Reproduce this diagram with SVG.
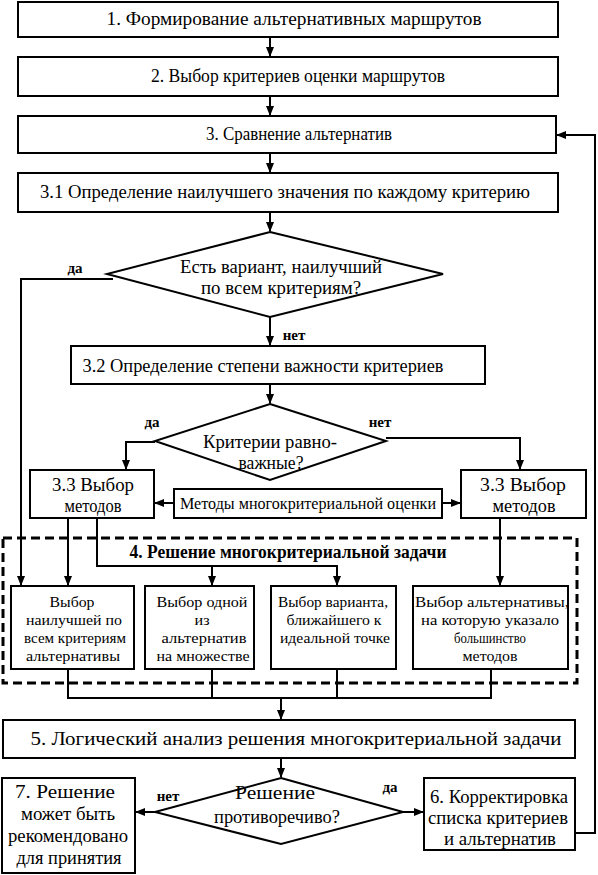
<svg xmlns="http://www.w3.org/2000/svg" width="598" height="875" viewBox="0 0 598 875">
<style>
.b{fill:#fff;stroke:#000;stroke-width:2}
text{font-family:'Liberation Serif','DejaVu Serif',serif;fill:#000;text-anchor:middle}
.t{font-size:18px}
.s{font-size:15px}
.m{font-size:16px}
.l{font-size:15px;font-weight:bold}
.c{fill:none;stroke:#000;stroke-width:2}
</style>
<defs>
<marker id="a" markerWidth="10" markerHeight="8" refX="9" refY="4" orient="auto" markerUnits="userSpaceOnUse">
<path d="M0,0 L10,4 L0,8 Z" fill="#000"/>
</marker>
</defs>
<rect width="598" height="875" fill="#fff"/>
<g id="n1"><rect class="b" x="18" y="2" width="540" height="35"/><text class="t" x="294" y="25" textLength="375" lengthAdjust="spacingAndGlyphs">1. Формирование альтернативных маршрутов</text></g>
<g id="n2"><rect class="b" x="18" y="57" width="540" height="39"/><text class="t" x="298" y="82" textLength="294" lengthAdjust="spacingAndGlyphs">2. Выбор критериев оценки маршрутов</text></g>
<g id="n3"><rect class="b" x="18" y="116" width="538" height="37"/><text class="t" x="299" y="140" textLength="186" lengthAdjust="spacingAndGlyphs">3. Сравнение альтернатив</text></g>
<g id="n31"><rect class="b" x="18" y="173" width="540" height="39"/><text class="t" x="285" y="198" textLength="490" lengthAdjust="spacingAndGlyphs">3.1 Определение наилучшего значения по каждому критерию</text></g>
<g id="d1"><polygon class="b" points="270,232 443,274 270,317 107,274"/><text class="t" x="281" y="273" textLength="202" lengthAdjust="spacingAndGlyphs">Есть вариант, наилучший</text><text class="t" x="281" y="294" textLength="160" lengthAdjust="spacingAndGlyphs">по всем критериям?</text></g>
<g id="n32"><rect class="b" x="71" y="346" width="414" height="38"/><text class="t" x="263" y="372" textLength="361" lengthAdjust="spacingAndGlyphs">3.2 Определение степени важности критериев</text></g>
<g id="d2"><polygon class="b" points="270,404 386,441 270,480 155,441"/><text class="t" x="270" y="448" textLength="134" lengthAdjust="spacingAndGlyphs">Критерии равно-</text><text class="t" x="271" y="469" textLength="65" lengthAdjust="spacingAndGlyphs">важные?</text></g>
<g id="n33l"><rect class="b" x="30" y="470" width="124" height="48"/><text class="t" x="93" y="491" textLength="82" lengthAdjust="spacingAndGlyphs">3.3 Выбор</text><text class="t" x="93" y="512" textLength="57" lengthAdjust="spacingAndGlyphs">методов</text></g>
<g id="nm"><rect class="b" x="174" y="489" width="268" height="29"/><text class="m" x="308" y="509" textLength="256" lengthAdjust="spacingAndGlyphs">Методы многокритериальной оценки</text></g>
<g id="n33r"><rect class="b" x="461" y="470" width="125" height="48"/><text class="t" x="523" y="491" textLength="86" lengthAdjust="spacingAndGlyphs">3.3 Выбор</text><text class="t" x="524" y="512" textLength="63" lengthAdjust="spacingAndGlyphs">методов</text></g>
<g id="n4"><rect x="3" y="538" width="574" height="145" fill="none" stroke="#000" stroke-width="3" stroke-dasharray="9,5"/><text class="l" x="288" y="558" style="font-size:18px" textLength="317" lengthAdjust="spacingAndGlyphs">4. Решение многокритериальной задачи</text></g>
<g id="n4a"><rect class="b" x="11" y="586" width="123" height="83"/><text class="s" x="72" y="607" textLength="45" lengthAdjust="spacingAndGlyphs">Выбор</text><text class="s" x="74" y="625" textLength="96" lengthAdjust="spacingAndGlyphs">наилучшей по</text><text class="s" x="75" y="643" textLength="102" lengthAdjust="spacingAndGlyphs">всем критериям</text><text class="s" x="73" y="661" textLength="94" lengthAdjust="spacingAndGlyphs">альтернативы</text></g>
<g id="n4b"><rect class="b" x="145" y="586" width="109" height="83"/><text class="s" x="202" y="607" textLength="91" lengthAdjust="spacingAndGlyphs">Выбор одной</text><text class="s" x="202" y="625" textLength="15" lengthAdjust="spacingAndGlyphs">из</text><text class="s" x="204" y="643" textLength="85" lengthAdjust="spacingAndGlyphs">альтернатив</text><text class="s" x="203" y="661" textLength="93" lengthAdjust="spacingAndGlyphs">на множестве</text></g>
<g id="n4c"><rect class="b" x="271" y="586" width="125" height="83"/><text class="s" x="333" y="607" textLength="110" lengthAdjust="spacingAndGlyphs">Выбор варианта,</text><text class="s" x="334" y="625" textLength="95" lengthAdjust="spacingAndGlyphs">ближайшего к</text><text class="s" x="335" y="643" textLength="110" lengthAdjust="spacingAndGlyphs">идеальной точке</text></g>
<g id="n4d"><rect class="b" x="413" y="586" width="155" height="83"/><text class="s" x="492" y="607" textLength="154" lengthAdjust="spacingAndGlyphs">Выбор альтернативы,</text><text class="s" x="490" y="625" textLength="138" lengthAdjust="spacingAndGlyphs">на которую указало</text><text class="s" x="490" y="643" textLength="72" lengthAdjust="spacingAndGlyphs">большинство</text><text class="s" x="490" y="661" textLength="55" lengthAdjust="spacingAndGlyphs">методов</text></g>
<g id="n5"><rect class="b" x="3" y="720" width="572" height="38"/><text class="t" x="296" y="745" textLength="531" lengthAdjust="spacingAndGlyphs">5. Логический анализ решения многокритериальной задачи</text></g>
<g id="d3"><polygon class="b" points="281,778 403,812 281,844 155,812"/><text class="t" x="275" y="799" textLength="80" lengthAdjust="spacingAndGlyphs">Решение</text><text class="t" x="277" y="823" textLength="126" lengthAdjust="spacingAndGlyphs">противоречиво?</text></g>
<g id="n7"><rect class="b" x="2" y="778" width="133" height="95"/><text class="t" x="65" y="798" textLength="100" lengthAdjust="spacingAndGlyphs">7. Решение</text><text class="t" x="68" y="820" textLength="94" lengthAdjust="spacingAndGlyphs">может быть</text><text class="t" x="68" y="842" textLength="120" lengthAdjust="spacingAndGlyphs">рекомендовано</text><text class="t" x="69" y="864" textLength="105" lengthAdjust="spacingAndGlyphs">для принятия</text></g>
<g id="n6"><rect class="b" x="424" y="778" width="151" height="72"/><text class="t" x="499" y="803" textLength="138" lengthAdjust="spacingAndGlyphs">6. Корректировка</text><text class="t" x="498" y="824" textLength="140" lengthAdjust="spacingAndGlyphs">списка критериев</text><text class="t" x="500" y="845" textLength="112" lengthAdjust="spacingAndGlyphs">и альтернатив</text></g>
<g id="connectors">
<path class="c" d="M270,37 V56" marker-end="url(#a)"/>
<path class="c" d="M270,96 V115" marker-end="url(#a)"/>
<path class="c" d="M270,153 V172" marker-end="url(#a)"/>
<path class="c" d="M270,212 V231" marker-end="url(#a)"/>
<path class="c" d="M113,279 H21 V585" marker-end="url(#a)"/>
<path class="c" d="M270,317 V345" marker-end="url(#a)"/>
<path class="c" d="M270,384 V403" marker-end="url(#a)"/>
<path class="c" d="M155,442 H126 V469" marker-end="url(#a)"/>
<path class="c" d="M386,438 H520 V469" marker-end="url(#a)"/>
<path class="c" d="M174,503 H155" marker-end="url(#a)"/>
<path class="c" d="M442,503 H460" marker-end="url(#a)"/>
<path class="c" d="M68,518 V585" marker-end="url(#a)"/>
<path class="c" d="M97,518 V566 H337 V585" marker-end="url(#a)"/>
<path class="c" d="M212,566 V585" marker-end="url(#a)"/>
<path class="c" d="M500,518 V585" marker-end="url(#a)"/>
<path class="c" d="M68,669 V698 H491 V669 M212,669 V698 M337,669 V698"/>
<path class="c" d="M281,698 V719" marker-end="url(#a)"/>
<path class="c" d="M281,758 V777" marker-end="url(#a)"/>
<path class="c" d="M155,812 H136" marker-end="url(#a)"/>
<path class="c" d="M403,812 H423" marker-end="url(#a)"/>
<path class="c" d="M575,833 H595 V135 H557" marker-end="url(#a)"/>
<text class="l" x="75" y="273">да</text>
<text class="l" x="294" y="340">нет</text>
<text class="l" x="152" y="427">да</text>
<text class="l" x="380" y="427">нет</text>
<text class="l" x="168" y="801">нет</text>
<text class="l" x="390" y="792">да</text>
</g>
</svg>
